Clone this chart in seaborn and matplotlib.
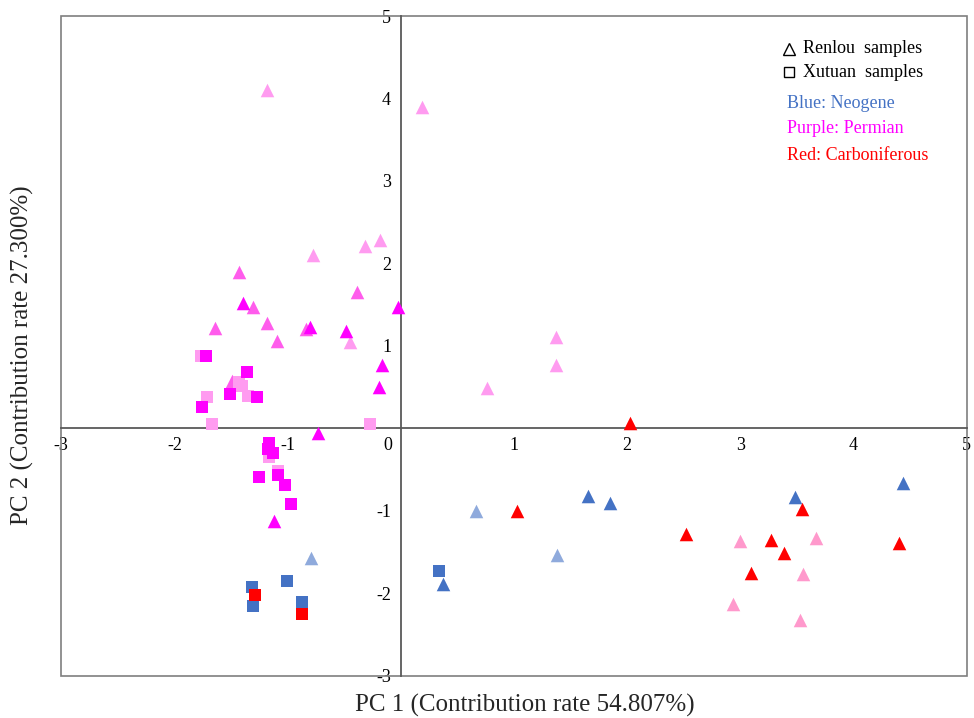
import matplotlib
matplotlib.use("Agg")
import matplotlib.pyplot as plt
import matplotlib.transforms as mtransforms
from matplotlib.patches import Rectangle
import seaborn as sns
import pandas as pd

# ---------------- data (PC1, PC2) ----------------
# Renlou samples (triangles)
ren_perm_light_x = [-1.182, 0.185, -0.184, -0.316, -0.780, -0.449, 1.371, 1.371, 0.759]
ren_perm_light_y = [4.103, 3.900, 2.284, 2.214, 2.102, 1.043, 1.111, 0.768, 0.492]
ren_perm_mid_x = [-1.427, -1.303, -0.390, -1.641, -1.179, -0.835, -1.096, -1.494]
ren_perm_mid_y = [1.892, 1.467, 1.657, 1.213, 1.281, 1.210, 1.062, 0.574]
ren_perm_dark_x = [-1.391, -0.022, -0.805, -0.484, -0.163, -0.193, -0.734, -1.117]
ren_perm_dark_y = [1.516, 1.475, 1.225, 1.184, 0.768, 0.497, -0.051, -1.121]
ren_neo_dark_x = [1.656, 1.848, 0.375, 3.482, 4.434]
ren_neo_dark_y = [-0.817, -0.910, -1.888, -0.829, -0.667]
ren_neo_light_x = [0.664, 1.377, -0.796]
ren_neo_light_y = [-0.999, -1.536, -1.569]
ren_carb_red_x = [2.025, 1.024, 2.519, 3.268, 3.541, 3.388, 3.094, 4.404]
ren_carb_red_y = [0.068, -0.999, -1.282, -1.355, -0.982, -1.516, -1.758, -1.395]
ren_carb_pink_x = [2.996, 3.668, 3.550, 2.937, 3.531]
ren_carb_pink_y = [-1.363, -1.327, -1.767, -2.131, -2.325]

# Xutuan samples (squares)
xut_perm_light_x = [-1.768, -1.427, -1.406, -1.715, -1.347, -1.670, -0.272, -1.162, -1.087]
xut_perm_light_y = [0.880, 0.565, 0.513, 0.383, 0.392, 0.049, 0.052, -0.352, -0.514]
xut_perm_dark_x = [-1.721, -1.361, -1.509, -1.268, -1.759, -1.162, -1.171, -1.126,
                   -1.253, -1.082, -1.026, -0.967]
xut_perm_dark_y = [0.880, 0.679, 0.416, 0.383, 0.262, -0.175, -0.255, -0.303,
                   -0.587, -0.566, -0.688, -0.918]
xut_neo_dark_x = [0.340, -1.008, -1.317, -1.308, -0.873]
xut_neo_dark_y = [-1.731, -1.852, -1.921, -2.155, -2.110]
xut_carb_red_x = [-1.288, -0.873]
xut_carb_red_y = [-2.022, -2.252]

x_ticks = [-3, -2, -1, 0, 1, 2, 3, 4, 5]
y_ticks = [-3, -2, -1, 1, 2, 3, 4, 5]

# ---------------- build table ----------------
groups = [
    ("Renlou", "perm_light", ren_perm_light_x, ren_perm_light_y),
    ("Renlou", "perm_mid", ren_perm_mid_x, ren_perm_mid_y),
    ("Renlou", "perm_dark", ren_perm_dark_x, ren_perm_dark_y),
    ("Renlou", "neo_light", ren_neo_light_x, ren_neo_light_y),
    ("Renlou", "neo_dark", ren_neo_dark_x, ren_neo_dark_y),
    ("Renlou", "carb_pink", ren_carb_pink_x, ren_carb_pink_y),
    ("Renlou", "carb_red", ren_carb_red_x, ren_carb_red_y),
    ("Xutuan", "perm_light", xut_perm_light_x, xut_perm_light_y),
    ("Xutuan", "perm_dark", xut_perm_dark_x, xut_perm_dark_y),
    ("Xutuan", "neo_dark", xut_neo_dark_x, xut_neo_dark_y),
    ("Xutuan", "carb_red", xut_carb_red_x, xut_carb_red_y),
]
rows = []
for site, grp, xs, ys in groups:
    for x, y in zip(xs, ys):
        rows.append({"site": site, "group": grp, "PC1": x, "PC2": y})
df = pd.DataFrame(rows)

palette = {
    "perm_light": "#FF9BF0",
    "perm_mid": "#FF5CEC",
    "perm_dark": "#FF00FF",
    "neo_light": "#8FAADC",
    "neo_dark": "#4472C4",
    "carb_pink": "#FF99CC",
    "carb_red": "#FF0000",
}
markers = {"Renlou": "^", "Xutuan": "s"}

# ---------------- plot ----------------
sns.set_theme(style="white")
plt.rcParams["font.family"] = ["Liberation Serif", "DejaVu Serif"]

fig = plt.figure(figsize=(9.74, 7.18), dpi=100)
ax = fig.add_axes([0.0629, 0.0589, 0.9296, 0.9188])

for site, grp, xs, ys in groups:
    sub = df[(df.site == site) & (df.group == grp)]
    sns.scatterplot(data=sub, x="PC1", y="PC2", color=palette[grp],
                    marker=markers[site], s=95 if site == "Renlou" else 80,
                    linewidth=0, ax=ax, legend=False, zorder=3)

ax.set_xlim(-3, 5)
ax.set_ylim(-3, 5)
ax.set_xlabel("")
ax.set_ylabel("")

axis_col = "#595959"
for side in ["top", "right"]:
    ax.spines[side].set_visible(False)
ax.spines["left"].set_position(("data", 0))
ax.spines["bottom"].set_position(("data", 0))
for side in ["left", "bottom"]:
    ax.spines[side].set_color(axis_col)
    ax.spines[side].set_linewidth(1.3)
    ax.spines[side].set_zorder(2)

ax.add_patch(Rectangle((0, 0), 1, 1, transform=ax.transAxes, fill=False,
                       edgecolor="#7f7f7f", linewidth=1.2, clip_on=False, zorder=1))

ax.set_xticks(x_ticks)
ax.set_xticklabels([str(t) for t in x_ticks])
ax.set_yticks(y_ticks)
ax.set_yticklabels([str(t) for t in y_ticks])
ax.tick_params(axis="both", direction="inout", length=8, width=1.2, color="#333333",
               labelsize=13, labelcolor="black", pad=2)
ax.tick_params(axis="y", pad=3)

# shift "0" x label to the left of the vertical axis
for lbl in ax.get_xticklabels():
    if lbl.get_text() == "0":
        lbl.set_transform(lbl.get_transform() +
                          mtransforms.ScaledTranslation(-13 / 100, 0, fig.dpi_scale_trans))

ax.grid(False)

# axis titles
fig.text(525 / 974, 1 - 705 / 718, "PC 1 (Contribution rate 54.807%)",
         ha="center", va="center", fontsize=18)
fig.text(22 / 974, 1 - 355 / 718, "PC 2 (Contribution rate 27.300%)",
         ha="center", va="center", rotation=90, fontsize=18)

# legend
ax.plot([0.804], [0.950], marker="^", markersize=8, markerfacecolor="none",
        markeredgecolor="black", markeredgewidth=1, transform=ax.transAxes,
        linestyle="none", clip_on=False)
ax.plot([0.804], [0.915], marker="s", markersize=7.5, markerfacecolor="none",
        markeredgecolor="black", markeredgewidth=1, transform=ax.transAxes,
        linestyle="none", clip_on=False)
ax.text(0.819, 0.950, "Renlou  samples", transform=ax.transAxes, fontsize=13,
        va="center", ha="left", color="black")
ax.text(0.819, 0.915, "Xutuan  samples", transform=ax.transAxes, fontsize=13,
        va="center", ha="left", color="black")
ax.text(0.802, 0.868, "Blue: Neogene", transform=ax.transAxes, fontsize=13,
        va="center", ha="left", color="#4472C4")
ax.text(0.802, 0.830, "Purple: Permian", transform=ax.transAxes, fontsize=13,
        va="center", ha="left", color="#FF00FF")
ax.text(0.802, 0.789, "Red: Carboniferous", transform=ax.transAxes, fontsize=13,
        va="center", ha="left", color="#FF0000")

fig.savefig("out.png", dpi=100)
